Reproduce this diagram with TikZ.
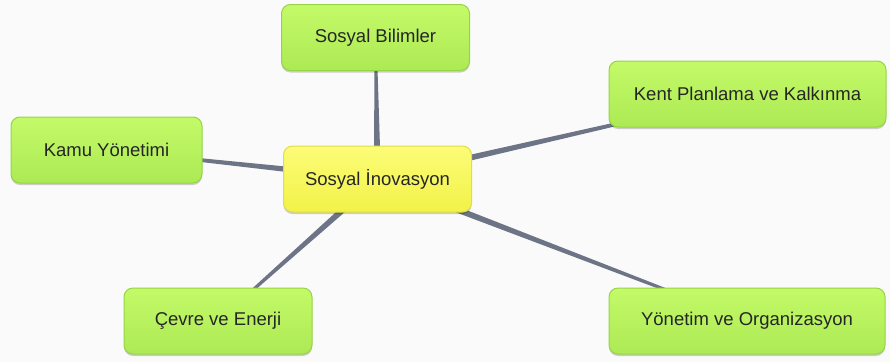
\documentclass[tikz,border=0pt]{standalone}
\usepackage{fontspec}
\setmainfont{Liberation Sans}
\usepackage{tikz}
\usetikzlibrary{calc, shadows}

\definecolor{limetop}{RGB}{196,250,104}
\definecolor{limebot}{RGB}{172,234,84}
\definecolor{limeline}{RGB}{150,212,70}
\definecolor{yeltop}{RGB}{252,252,120}
\definecolor{yelbot}{RGB}{242,242,72}
\definecolor{yelline}{RGB}{222,222,70}
\definecolor{spokegray}{RGB}{108,116,134}
\definecolor{paper}{RGB}{250,250,250}

\pgfdeclarelayer{back}
\pgfdeclarelayer{edges}
\pgfsetlayers{back,edges,main}

% tapered connector from hub (#1) to leaf (#2)
\newcommand{\spoke}[2]{%
  \fill[spokegray] ($(#1.center)!3.5pt!90:(#2.center)$) -- ($(#2.center)!1pt!-90:(#1.center)$)
    -- ($(#2.center)!1pt!90:(#1.center)$) -- ($(#1.center)!3.5pt!-90:(#2.center)$) -- cycle;}

\begin{document}
\begin{tikzpicture}[x=1pt,y=-1pt,
    topic/.style={rectangle, rounded corners=9pt, draw=limeline, line width=1pt,
      top color=limetop, bottom color=limebot, minimum width=188pt, minimum height=66pt,
      text=black!85, font=\fontsize{18.5}{22}\selectfont,
      drop shadow={shadow xshift=0pt, shadow yshift=-2pt, opacity=0.18, fill=black}},
    hub/.style={topic, draw=yelline, top color=yeltop, bottom color=yelbot}]
  \begin{pgfonlayer}{back}
    \fill[paper] (0,0) rectangle (890,362);
  \end{pgfonlayer}
  \useasboundingbox (0,0) rectangle (890,362);

  \node[hub] (inov) at (377.5,179) {Sosyal İnovasyon};
  \node[topic] (bilim) at (375.5,37.5) {Sosyal Bilimler};
  \node[topic, minimum width=277pt] (kent) at (747.5,94) {Kent Planlama ve Kalkınma};
  \node[topic, minimum width=191pt] (kamu) at (106.5,150) {Kamu Yönetimi};
  \node[topic] (cevre) at (218,321) {Çevre ve Enerji};
  \node[topic, minimum width=276pt] (yonet) at (747,321) {Yönetim ve Organizasyon};

  \begin{pgfonlayer}{edges}
    \foreach \leaf in {bilim,kent,kamu,cevre,yonet}
      \spoke{inov}{\leaf};
  \end{pgfonlayer}
\end{tikzpicture}
\end{document}
